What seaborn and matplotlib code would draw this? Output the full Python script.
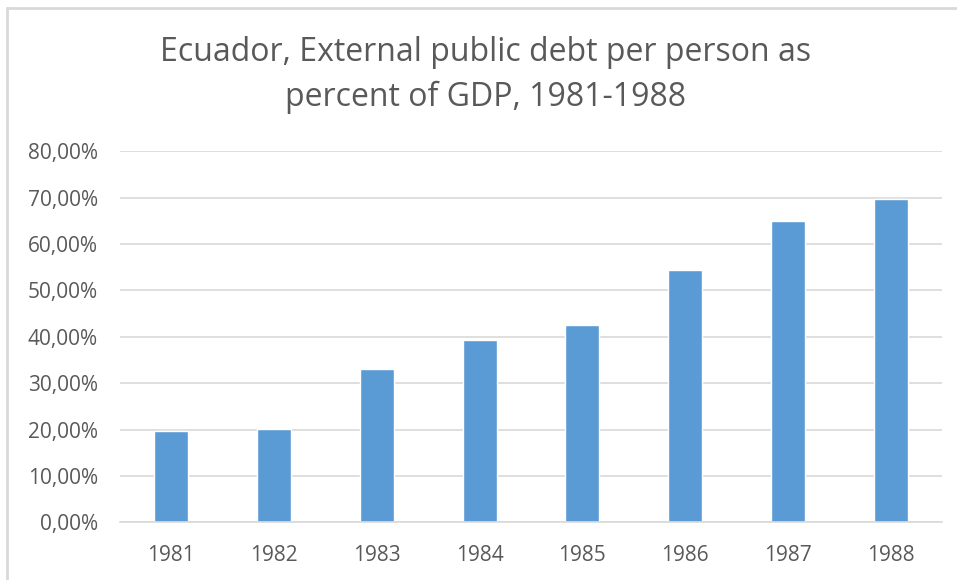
import numpy as np
import pandas as pd
import matplotlib
matplotlib.use('Agg')
import matplotlib.pyplot as plt
import seaborn as sns
from matplotlib.lines import Line2D
from matplotlib.ticker import FuncFormatter

# Data
years = ['1981', '1982', '1983', '1984', '1985', '1986', '1987', '1988']
debt_pct = [0.196, 0.202, 0.330, 0.393, 0.426, 0.545, 0.650, 0.697]
y_ticks = [0.0, 0.1, 0.2, 0.3, 0.4, 0.5, 0.6, 0.7, 0.8]

df = pd.DataFrame({'year': years, 'debt': debt_pct})

sns.set_style('white')
plt.rcParams['font.family'] = ['Open Sans', 'DejaVu Sans']

text_col = '#595959'
grid_col = '#d9d9d9'
bar_col = '#5b9bd5'

fig = plt.figure(figsize=(9.57, 5.8), dpi=100)
ax = fig.add_axes([120 / 957, 1 - 522.3 / 580, 822 / 957, (522.3 - 151.3) / 580])

sns.barplot(data=df, x='year', y='debt', color=bar_col, width=0.33,
            saturation=1, ax=ax)

ax.set_ylim(0, 0.8)
ax.set_xlim(-0.5, len(years) - 0.5)
ax.set_yticks(y_ticks)
ax.yaxis.set_major_formatter(FuncFormatter(lambda v, p: f'{v * 100:.2f}%'.replace('.', ',')))
ax.grid(axis='y', color=grid_col, linewidth=1.2)
ax.set_axisbelow(True)
for s in ['top', 'right', 'left']:
    ax.spines[s].set_visible(False)
ax.spines['bottom'].set_color(grid_col)
ax.spines['bottom'].set_linewidth(1.2)
ax.tick_params(axis='both', length=0, labelsize=15, colors=text_col)
ax.tick_params(axis='y', pad=16)
ax.tick_params(axis='x', pad=16)
ax.set_xlabel('')
ax.set_ylabel('')

fig.text(0.507, 1 - 75 / 580, 'Ecuador, External public debt per person as\npercent of GDP, 1981-1988',
         ha='center', va='center', fontsize=23, color=text_col, linespacing=1.5)

# light frame on the left and top edges
fig.add_artist(Line2D([7.5 / 957, 7.5 / 957], [0.0, 1 - 7.5 / 580], transform=fig.transFigure,
                      color=grid_col, linewidth=2))
fig.add_artist(Line2D([7.5 / 957, 1.0], [1 - 7.5 / 580, 1 - 7.5 / 580], transform=fig.transFigure,
                      color=grid_col, linewidth=2))

fig.savefig('out.png', dpi=100)
